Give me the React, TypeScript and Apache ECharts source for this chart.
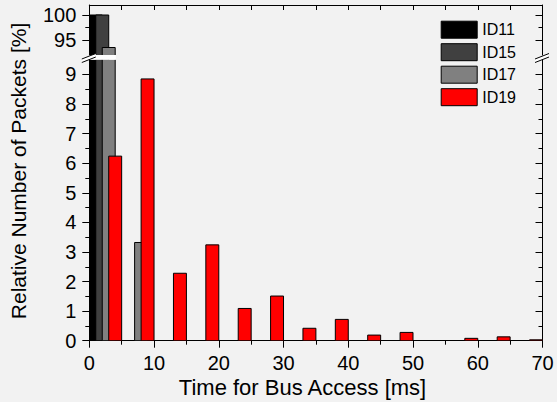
import React, { useEffect, useRef } from "react";
import * as echarts from "echarts";

// ---- data ----
const binStarts = [0, 5, 10, 15, 20, 25, 30, 35, 40, 45, 50, 55, 60, 65];
const seriesNames = ["ID11", "ID15", "ID17", "ID19"];
const id11 = [100, 0, 0, 0, 0, 0, 0, 0, 0, 0, 0, 0, 0, 0];
const id15 = [100, 0, 0, 0, 0, 0, 0, 0, 0, 0, 0, 0, 0, 0];
const id17 = [93.5, 3.32, 0, 0, 0, 0, 0, 0, 0, 0, 0, 0, 0, 0];
const id19 = [6.24, 8.85, 2.28, 3.24, 1.09, 1.51, 0.42, 0.72, 0.19, 0.28, 0, 0.08, 0.13, 0.03];
const seriesValues = [id11, id15, id17, id19];
const seriesColors = ["#000000", "#404040", "#808080", "#ff0000"];

const upperMajor = [95, 100];
const upperMinor = [97.5];
const lowerMajor = [0, 1, 2, 3, 4, 5, 6, 7, 8, 9];
const lowerMinor = [0.5, 1.5, 2.5, 3.5, 4.5, 5.5, 6.5, 7.5, 8.5];

const xTitle = "Time for Bus Access [ms]";
const yTitle = "Relative Number of Packets [%]";

const FONT = "'Liberation Sans', Arial, Helvetica, sans-serif";

// layout
const PL = 89.3;
const PR = 542.5;
const UP_TOP = 5;
const UP_BOT = 55;
const LO_TOP = 59.7;
const LO_BOT = 340.7;

function yAxisDef(grid: number, pos: "left" | "right", min: number, max: number, vals: number[], major: boolean, labels: boolean) {
  return {
    type: "value",
    gridIndex: grid,
    position: pos,
    min,
    max,
    axisLine: { show: major, onZero: false, lineStyle: { color: "#000", width: 1 } },
    axisTick: {
      show: true,
      inside: pos === "right",
      length: major ? 7 : 4,
      customValues: vals,
      lineStyle: { color: "#000", width: 1 },
    },
    axisLabel: labels
      ? { show: true, customValues: vals, fontSize: 20, lineHeight: 18, color: "#000", margin: 13, fontFamily: FONT }
      : { show: false },
    splitLine: { show: false },
  };
}

export default function App() {
  const ref = useRef<HTMLDivElement>(null);
  useEffect(() => {
    document.body.style.margin = "0";
    const chart = echarts.init(ref.current!, null, { renderer: "svg" });

    const series: any[] = [];
    seriesNames.forEach((name, si) => {
      const data = binStarts
        .map((s, i) => [s + si, s + si + 2, seriesValues[si][i]])
        .filter((d) => d[2] > 0);
      [0, 1].forEach((g) => {
        series.push({
          type: "custom",
          name,
          xAxisIndex: g,
          yAxisIndex: g === 0 ? 0 : 4,
          clip: true,
          encode: { x: [0, 1], y: 2 },
          data,
          itemStyle: { color: seriesColors[si] },
          renderItem: (params: any, api: any) => {
            const x0 = api.value(0);
            const x1 = api.value(1);
            const v = api.value(2);
            const p0 = api.coord([x0, v]);
            const p1 = api.coord([x1, g === 0 ? 80 : 0]);
            return {
              type: "rect",
              shape: { x: p0[0], y: p0[1], width: p1[0] - p0[0], height: p1[1] - p0[1] },
              style: { fill: seriesColors[si], stroke: "#000", lineWidth: 1 },
            };
          },
        });
      });
    });

    const breakMarks = (cx: number) => [
      {
        type: "polygon",
        shape: { points: [[cx - 7.5, 59], [cx + 6.5, 53.5], [cx + 6.5, 57], [cx - 7.5, 62.5]] },
        style: { fill: "#ffffff" },
        z: 100,
      },
      {
        type: "line",
        shape: { x1: cx - 7.5, y1: 59, x2: cx + 6.5, y2: 53.5 },
        style: { stroke: "#000", lineWidth: 1 },
        z: 101,
      },
      {
        type: "line",
        shape: { x1: cx - 7.5, y1: 62.5, x2: cx + 6.5, y2: 57 },
        style: { stroke: "#000", lineWidth: 1 },
        z: 101,
      },
    ];

    const option: any = {
      animation: false,
      backgroundColor: "#f2f2f2",
      grid: [
        { left: PL, top: UP_TOP, width: PR - PL, height: UP_BOT - UP_TOP, containLabel: false },
        { left: PL, top: LO_TOP, width: PR - PL, height: LO_BOT - LO_TOP, containLabel: false },
      ],
      xAxis: [
        {
          type: "value",
          gridIndex: 0,
          position: "top",
          min: 0,
          max: 70,
          interval: 5,
          axisLine: { show: true, onZero: false, lineStyle: { color: "#000", width: 1 } },
          axisTick: { show: true, inside: true, length: 5, lineStyle: { color: "#000" } },
          axisLabel: { show: false },
          splitLine: { show: false },
        },
        {
          type: "value",
          gridIndex: 1,
          position: "bottom",
          min: 0,
          max: 70,
          interval: 10,
          axisLine: { show: true, onZero: false, lineStyle: { color: "#000", width: 1 } },
          axisTick: { show: true, inside: false, length: 7, lineStyle: { color: "#000" } },
          minorTick: { show: true, splitNumber: 2, length: 4, lineStyle: { color: "#000" } },
          axisLabel: { show: true, fontSize: 20, lineHeight: 16, color: "#000", margin: 14, fontFamily: FONT },
          splitLine: { show: false },
        },
      ],
      yAxis: [
        yAxisDef(0, "left", 92, 102, upperMajor, true, true),
        yAxisDef(0, "left", 92, 102, upperMinor, false, false),
        yAxisDef(0, "right", 92, 102, upperMajor, true, false),
        yAxisDef(0, "right", 92, 102, upperMinor, false, false),
        yAxisDef(1, "left", 0, 9.5, lowerMajor, true, true),
        yAxisDef(1, "left", 0, 9.5, lowerMinor, false, false),
        yAxisDef(1, "right", 0, 9.5, lowerMajor, true, false),
        yAxisDef(1, "right", 0, 9.5, lowerMinor, false, false),
      ],
      legend: {
        orient: "vertical",
        left: 440.7,
        top: 20.7,
        padding: 0,
        itemWidth: 36,
        itemHeight: 17,
        itemGap: 4.5,
        icon: "rect",
        selectedMode: false,
        textStyle: { fontSize: 16, color: "#000", fontFamily: FONT },
        data: seriesNames.map((n, i) => ({
          name: n,
          icon: "rect",
          itemStyle: { color: seriesColors[i], borderColor: "#000", borderWidth: 1 },
        })),
      },
      graphic: [
        {
          type: "rect",
          shape: { x: PL + 0.5, y: UP_BOT, width: 26, height: LO_TOP - UP_BOT },
          style: { fill: "#ffffff" },
          z: 99,
        },
        ...breakMarks(PL),
        ...breakMarks(PR),
        {
          type: "text",
          x: 302.5,
          y: 387,
          style: {
            text: xTitle,
            fontSize: 22,
            lineHeight: 20,
            fontFamily: FONT,
            fill: "#000",
            textAlign: "center",
            textVerticalAlign: "middle",
          },
        },
        {
          type: "text",
          x: 18,
          y: 171,
          rotation: Math.PI / 2,
          style: {
            text: yTitle,
            fontSize: 21,
            fontFamily: FONT,
            fill: "#000",
            textAlign: "center",
            textVerticalAlign: "middle",
          },
        },
      ],
      series,
    };

    chart.setOption(option);
    return () => chart.dispose();
  }, []);
  return <div ref={ref} style={{ width: 557, height: 402, background: "#f2f2f2" }} />;
}
